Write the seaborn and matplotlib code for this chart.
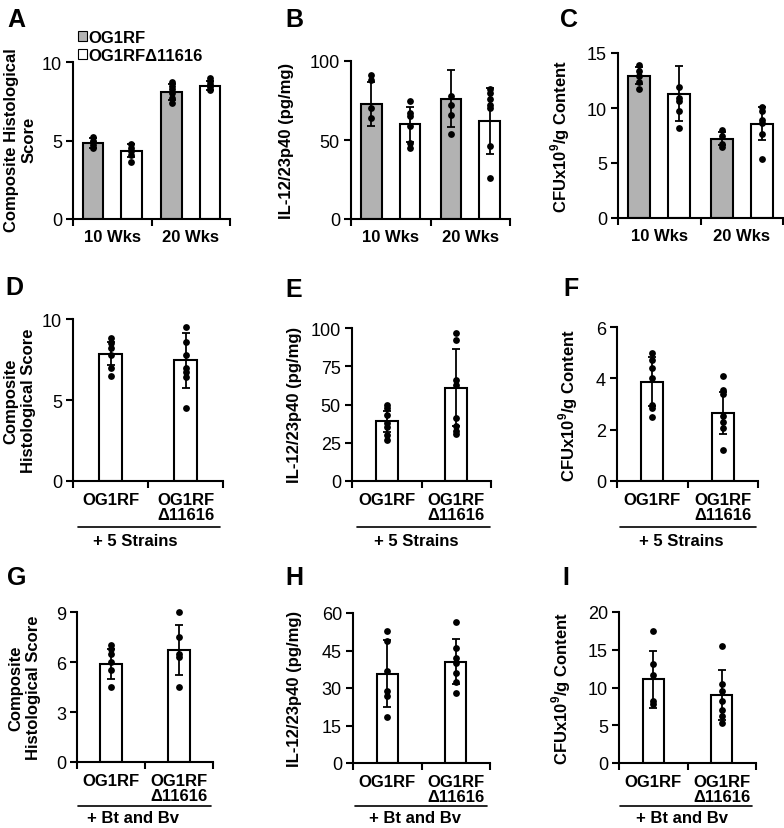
import numpy as np
import pandas as pd
import matplotlib.pyplot as plt
import seaborn as sns
from matplotlib.lines import Line2D
from matplotlib.patches import Patch

sns.set_style('ticks')
plt.rcParams['font.family'] = ['Liberation Sans', 'DejaVu Sans']
plt.rcParams.update({'axes.edgecolor': 'black', 'xtick.color': 'black', 'ytick.color': 'black',
                     'text.color': 'black', 'axes.labelcolor': 'black',
                     'mathtext.fontset': 'custom', 'mathtext.rm': 'Liberation Sans:bold',
                     'mathtext.bf': 'Liberation Sans:bold'})

# ---- data ----
weeks = ['10 Wks', '20 Wks']
strains = ['OG1RF', 'OG1RF\u039411616']
groups = ['OG1RF', 'OG1RF\n\u039411616']

# top row, order: 10wk OG1RF, 10wk delta, 20wk OG1RF, 20wk delta
histo_wk_mean = [4.85, 4.35, 8.1, 8.5]
histo_wk_sd = [0.3, 0.4, 0.5, 0.3]
histo_wk_pts = [[5.2, 5.0, 4.9, 4.7, 4.5], [4.75, 4.5, 4.3, 4.1, 3.6],
                [8.7, 8.5, 8.3, 8.0, 7.7, 7.4], [9.0, 8.8, 8.6, 8.4, 8.2]]
il12_wk_mean = [73, 60, 76, 62]
il12_wk_sd = [14, 11, 18, 21]
il12_wk_pts = [[91, 88, 70, 64], [75, 67, 65, 59, 48, 45],
               [78, 72, 66, 54], [82, 80, 76, 72, 70, 46, 26]]
cfu_wk_mean = [12.95, 11.3, 7.2, 8.55]
cfu_wk_sd = [0.8, 2.5, 0.6, 1.5]
cfu_wk_pts = [[13.9, 13.4, 12.9, 12.4, 11.7], [11.9, 10.9, 10.6, 9.7, 8.2],
              [8.0, 7.5, 6.7, 6.5], [10.1, 9.7, 8.9, 8.6, 7.6, 5.4]]

# + 5 strains
histo_5_mean = [7.85, 7.45]
histo_5_sd = [0.7, 1.7]
histo_5_pts = [[8.8, 8.5, 8.2, 7.8, 7.0, 6.5], [9.5, 8.6, 7.8, 7.0, 6.7, 6.4, 4.5]]
il12_5_mean = [39, 61]
il12_5_sd = [7, 25]
il12_5_pts = [[50, 48, 43, 38, 35, 30, 27], [97, 92, 66, 63, 41, 36, 33, 31]]
cfu_5_mean = [3.87, 2.65]
cfu_5_sd = [0.95, 0.8]
cfu_5_pts = [[5.0, 4.7, 4.4, 4.0, 2.95, 2.85, 2.5], [4.1, 3.55, 3.4, 2.55, 2.3, 2.05, 1.2]]

# + Bt and Bv
histo_bt_mean = [5.9, 6.7]
histo_bt_sd = [0.9, 1.5]
histo_bt_pts = [[7.0, 6.8, 6.5, 6.0, 5.5, 4.5], [9.0, 7.5, 6.5, 6.3, 4.5]]
il12_bt_mean = [35.8, 40.5]
il12_bt_sd = [13.5, 9]
il12_bt_pts = [[53, 49, 37, 29, 27, 18.5], [56.5, 46, 42, 40, 36, 32.5, 28]]
cfu_bt_mean = [11.1, 9.0]
cfu_bt_sd = [3.8, 3.3]
cfu_bt_pts = [[17.5, 13.1, 11.6, 8.2, 7.8], [15.5, 10.4, 9.5, 8.2, 7.0, 6.2, 5.3]]

histo_label = 'Composite Histological\nScore'
histo_label2 = 'Composite\nHistological Score'
il12_label = 'IL-12/23p40 (pg/mg)'
cfu_label = 'CFUx10$^{9}$/g Content'

GRAY = '#b2b2b2'
W, H = 784, 829

fig = plt.figure(figsize=(W / 100, H / 100), dpi=100)


def add_ax(l, r, t, b):
    return fig.add_axes([l / W, 1 - b / H, (r - l) / W, (b - t) / H])


def draw_panel(ax, means, sds, pts, yticks, top_row):
    if top_row:
        df = pd.DataFrame({'week': np.repeat(weeks, 2), 'strain': strains * 2, 'value': means})
        sns.barplot(data=df, x='week', y='value', hue='strain', palette=[GRAY, 'white'],
                    width=0.97, gap=0.46, edgecolor='black', linewidth=1.5, saturation=1,
                    errorbar=None, legend=False, ax=ax)
        labels = weeks
    else:
        df = pd.DataFrame({'group': groups, 'value': means})
        sns.barplot(data=df, x='group', y='value', color='white', width=0.31,
                    edgecolor='black', linewidth=1.5, saturation=1, errorbar=None, ax=ax)
        labels = groups
    bars = sorted([p for p in ax.patches if p.get_height() > 0], key=lambda p: p.get_x())
    xs = [b.get_x() + b.get_width() / 2 for b in bars]
    ax.errorbar(xs, means, yerr=sds, fmt='none', ecolor='black', elinewidth=1.3,
                capsize=3, capthick=1.3, zorder=3)
    for x, p in zip(xs, pts):
        ax.scatter([x] * len(p), p, s=24, color='black', linewidths=0, zorder=4, clip_on=False)

    ax.set_ylim(0, yticks[-1])
    ax.set_yticks(yticks)
    ax.set_xlim(-0.5, 1.5)
    ax.set_xticks([-0.5, 0.5, 1.5])
    ax.set_xticklabels([])
    ax.set_xticks([0, 1], minor=True)
    ax.set_xticklabels(labels, minor=True, fontweight='bold', fontsize=12, va='top')
    for t in ax.get_xticklabels(minor=True):
        t.set_linespacing(0.95)
    ax.tick_params(axis='x', which='minor', length=0, pad=8 if not top_row else 7)
    ax.tick_params(axis='x', which='major', length=5, width=1.5, direction='out')
    ax.tick_params(axis='y', length=5, width=1.5, labelsize=13, pad=3)
    ax.set_xlabel('')
    ax.set_ylabel('')
    sns.despine(ax=ax)
    for s in ['left', 'bottom']:
        ax.spines[s].set_linewidth(1.5)


def ylabel(ax, text, cx, cy):
    ax.set_ylabel(text, fontweight='bold', fontsize=12)
    ax.yaxis.label.set_va('center')
    ax.yaxis.set_label_coords(cx / W, 1 - cy / H, transform=fig.transFigure)


def bracket(x0, x1, y, cx, cy, text):
    fig.add_artist(Line2D([x0 / W, x1 / W], [1 - y / H, 1 - y / H], transform=fig.transFigure,
                          color='black', lw=1.2))
    fig.text(cx / W, 1 - cy / H, text, ha='center', va='center', fontweight='bold', fontsize=12)


def letter(x, y, s):
    fig.text(x / W, 1 - y / H, s, ha='left', va='baseline', fontweight='bold', fontsize=18)


# ---- top row ----
axA = add_ax(73, 230, 63, 220)
draw_panel(axA, histo_wk_mean, histo_wk_sd, histo_wk_pts, [0, 5, 10], True)
ylabel(axA, histo_label, 20, 140)
axB = add_ax(351, 510, 62, 220)
draw_panel(axB, il12_wk_mean, il12_wk_sd, il12_wk_pts, [0, 50, 100], True)
ylabel(axB, il12_label, 287, 141)
axC = add_ax(618, 783, 54, 219)
draw_panel(axC, cfu_wk_mean, cfu_wk_sd, cfu_wk_pts, [0, 5, 10, 15], True)
ylabel(axC, cfu_label, 560, 136)

handles = [Patch(facecolor=GRAY, edgecolor='black', lw=0.8),
           Patch(facecolor='white', edgecolor='black', lw=0.8)]
fig.legend(handles, strains, loc='upper left', bbox_to_anchor=(78 / W, 1 - 31 / H),
           frameon=False, prop={'weight': 'bold', 'size': 12}, handlelength=0.55,
           handleheight=0.55, handletextpad=0.1, labelspacing=0.2, borderpad=0,
           borderaxespad=0)

# ---- + 5 strains ----
axD = add_ax(73, 223, 320, 482)
draw_panel(axD, histo_5_mean, histo_5_sd, histo_5_pts, [0, 5, 10], False)
ylabel(axD, histo_label2, 20, 401)
axE = add_ax(352, 491, 329, 482)
draw_panel(axE, il12_5_mean, il12_5_sd, il12_5_pts, [0, 25, 50, 75, 100], False)
ylabel(axE, il12_label, 295, 405)
axF = add_ax(617, 758, 328, 482)
draw_panel(axF, cfu_5_mean, cfu_5_sd, cfu_5_pts, [0, 2, 4, 6], False)
ylabel(axF, cfu_label, 568, 405)
bracket(78, 220, 528, 135, 542, '+ 5 Strains')
bracket(357, 490, 528, 416, 542, '+ 5 Strains')
bracket(620, 756, 528, 681, 542, '+ 5 Strains')

# ---- + Bt and Bv ----
axG = add_ax(77, 213, 613, 763)
draw_panel(axG, histo_bt_mean, histo_bt_sd, histo_bt_pts, [0, 3, 6, 9], False)
ylabel(axG, histo_label2, 25, 688)
axH = add_ax(353, 490, 614, 764)
draw_panel(axH, il12_bt_mean, il12_bt_sd, il12_bt_pts, [0, 15, 30, 45, 60], False)
ylabel(axH, il12_label, 295, 689)
axI = add_ax(619, 756, 613, 764)
draw_panel(axI, cfu_bt_mean, cfu_bt_sd, cfu_bt_pts, [0, 5, 10, 15, 20], False)
ylabel(axI, cfu_label, 561, 688)
bracket(78, 211, 807, 133, 819, '+ Bt and Bv')
bracket(355, 487, 807, 415, 819, '+ Bt and Bv')
bracket(620, 752, 807, 682, 819, '+ Bt and Bv')

for s, x, y in [('A', 7, 27), ('B', 285, 27), ('C', 560, 27), ('D', 5, 295), ('E', 285, 297),
                ('F', 563, 296), ('G', 7, 585), ('H', 285, 585), ('I', 562, 585)]:
    letter(x, y, s)

fig.savefig('out.png', dpi=100)
